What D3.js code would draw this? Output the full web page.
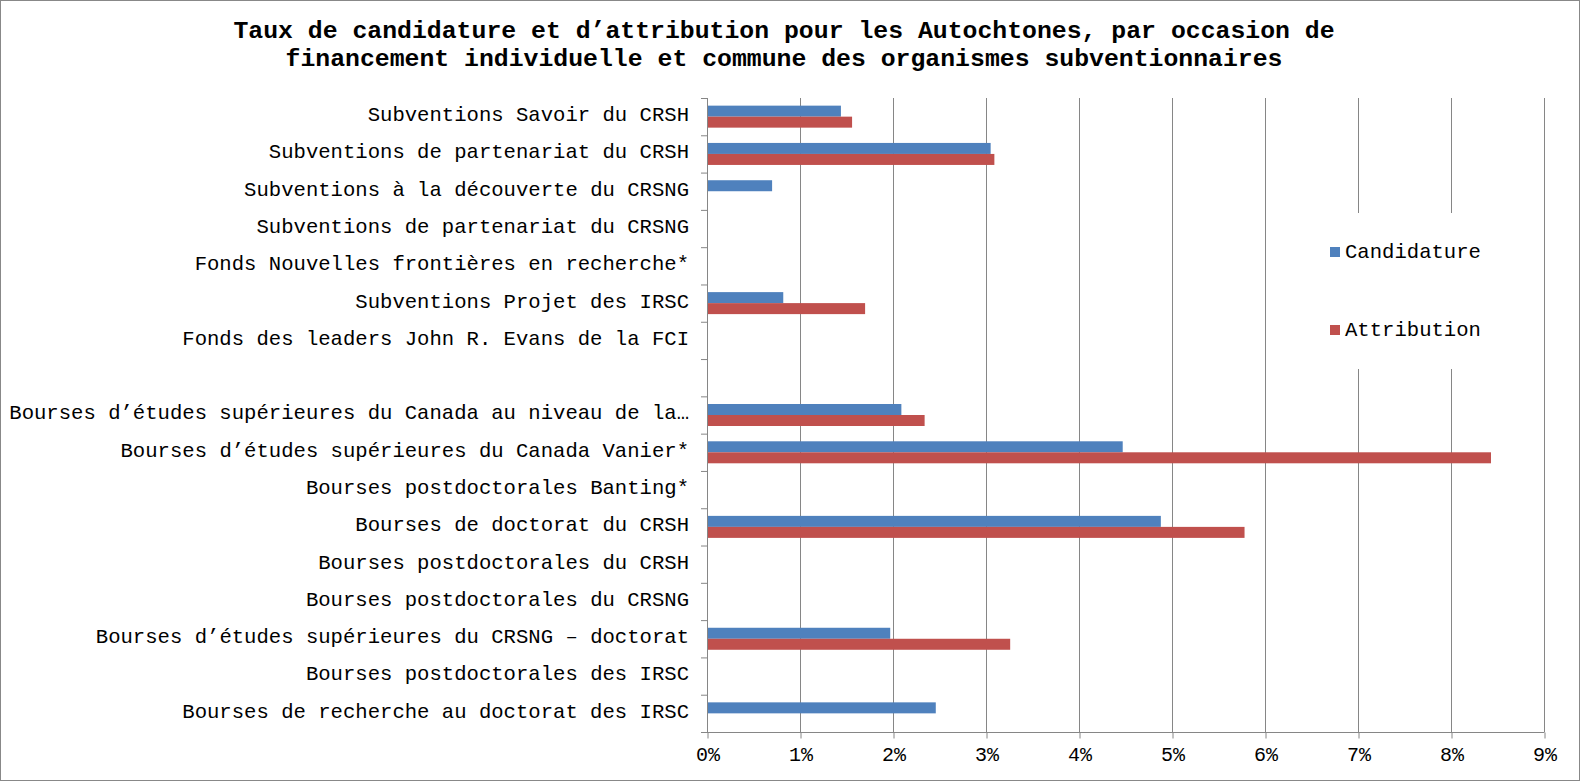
<!DOCTYPE html>
<html>
<head>
<meta charset="utf-8">
<script src="https://cdn.jsdelivr.net/npm/d3@7"></script>
<style>
    body { margin: 0; background: #fff; }
    text { font-family: "Liberation Mono", "Courier New", monospace; fill: #000; }
</style>
</head>
<body>
<svg id="chart" width="1580" height="781"></svg>
<script>
// Categories, top to bottom (the empty one is a spacer row in the original)
const categories = [
    'Subventions Savoir du CRSH',
    'Subventions de partenariat du CRSH',
    'Subventions à la découverte du CRSNG',
    'Subventions de partenariat du CRSNG',
    'Fonds Nouvelles frontières en recherche*',
    'Subventions Projet des IRSC',
    'Fonds des leaders John R. Evans de la FCI',
    '',
    'Bourses d’études supérieures du Canada au niveau de la…',
    'Bourses d’études supérieures du Canada Vanier*',
    'Bourses postdoctorales Banting*',
    'Bourses de doctorat du CRSH',
    'Bourses postdoctorales du CRSH',
    'Bourses postdoctorales du CRSNG',
    'Bourses d’études supérieures du CRSNG – doctorat',
    'Bourses postdoctorales des IRSC',
    'Bourses de recherche au doctorat des IRSC'
];

// Rates in percent (null = no bar)
const candidature = [1.44, 3.05, 0.70, null, null, 0.82, null, null, 2.09, 4.47, null, 4.88, null, null, 1.97, null, 2.46];
const attribution = [1.56, 3.09, null, null, null, 1.70, null, null, 2.34, 8.43, null, 5.78, null, null, 3.26, null, null];

const seriesNames = ['Candidature', 'Attribution'];
const seriesColors = ['#4F81BD', '#C0504D'];
const xTicks = [0, 1, 2, 3, 4, 5, 6, 7, 8, 9];

const titleLines = [
    'Taux de candidature et d’attribution pour les Autochtones, par occasion de',
    'financement individuelle et commune des organismes subventionnaires'
];

const svg = d3.select('#chart');
const width = +svg.attr('width');
const height = +svg.attr('height');
const plot = { left: 707, right: 1544, top: 98, bottom: 732 };
const gridColor = '#868686';

// outer border
svg.append('rect')
    .attr('x', 0.5).attr('y', 0.5)
    .attr('width', width - 1).attr('height', height - 1)
    .attr('fill', '#fff')
    .attr('stroke', '#888');

// title
svg.append('g').selectAll('text')
    .data(titleLines)
    .join('text')
    .attr('x', 784)
    .attr('y', (d, i) => 38 + i * 28)
    .attr('text-anchor', 'middle')
    .style('font-size', '24.8px')
    .style('font-weight', 'bold')
    .text(d => d);

const x = d3.scaleLinear().domain([0, 9]).range([plot.left, plot.right]);
const y = d3.scaleBand()
    .domain(d3.range(categories.length))
    .range([plot.top, plot.bottom])
    .paddingInner(0.41)
    .paddingOuter(0.205);
const ySub = d3.scaleBand().domain([0, 1]).range([0, y.bandwidth()]);

// vertical gridlines
svg.append('g').selectAll('line')
    .data(xTicks.slice(1))
    .join('line')
    .attr('x1', d => x(d) + 0.5).attr('x2', d => x(d) + 0.5)
    .attr('y1', plot.top).attr('y2', plot.bottom)
    .attr('stroke', gridColor)
    .attr('stroke-width', 1);

// bars
const series = [candidature, attribution];
const barsG = svg.append('g');
series.forEach((vals, s) => {
    barsG.selectAll('rect.s' + s)
        .data(vals.map((v, i) => ({ v, i })).filter(d => d.v !== null))
        .join('rect')
        .attr('class', 's' + s)
        .attr('x', x(0) + 1)
        .attr('y', d => y(d.i) + ySub(s))
        .attr('width', d => x(d.v) - x(0) - 1)
        .attr('height', ySub.bandwidth())
        .attr('fill', seriesColors[s]);
});

// x axis
const xAxis = d3.axisBottom(x)
    .tickValues(xTicks)
    .tickFormat(d => d + '%')
    .tickSize(6)
    .tickSizeOuter(0);
const xg = svg.append('g')
    .attr('transform', `translate(0.5,${plot.bottom + 0.5})`)
    .call(xAxis);
xg.select('.domain').attr('stroke', gridColor).attr('d', `M${plot.left - 6 - 0.5},0H${plot.right}`);
xg.selectAll('.tick line').attr('stroke', gridColor);
xg.selectAll('.tick text')
    .attr('dy', '0.95em')
    .style('font-size', '20px')
    .style('font-family', '"Liberation Mono", monospace');

// y axis: line and ticks between categories
const yStep = y.step();
const yg = svg.append('g');
yg.append('line')
    .attr('x1', plot.left + 0.5).attr('x2', plot.left + 0.5)
    .attr('y1', plot.top).attr('y2', plot.bottom)
    .attr('stroke', gridColor);
yg.selectAll('line.tk')
    .data(d3.range(categories.length + 1))
    .join('line')
    .attr('class', 'tk')
    .attr('x1', plot.left - 6).attr('x2', plot.left)
    .attr('y1', d => plot.top + d * yStep + 0.5)
    .attr('y2', d => plot.top + d * yStep + 0.5)
    .attr('stroke', gridColor);
yg.selectAll('text')
    .data(categories)
    .join('text')
    .attr('x', 689)
    .attr('y', (d, i) => y(i) + y.bandwidth() / 2 - 3)
    .attr('dy', '0.36em')
    .attr('text-anchor', 'end')
    .style('font-size', '20.6px')
    .text(d => d);

// legend (white box hides gridlines behind it)
const legend = svg.append('g');
legend.append('rect')
    .attr('x', 1300).attr('y', 213)
    .attr('width', 212).attr('height', 156)
    .attr('fill', '#fff');
const legendY = [251, 329];
seriesNames.forEach((name, i) => {
    legend.append('rect')
        .attr('x', 1330).attr('y', legendY[i] - 4)
        .attr('width', 10).attr('height', 10)
        .attr('fill', seriesColors[i]);
    legend.append('text')
        .attr('x', 1345).attr('y', legendY[i])
        .attr('dy', '0.36em')
        .style('font-size', '20.6px')
        .text(name);
});
</script>
</body>
</html>
